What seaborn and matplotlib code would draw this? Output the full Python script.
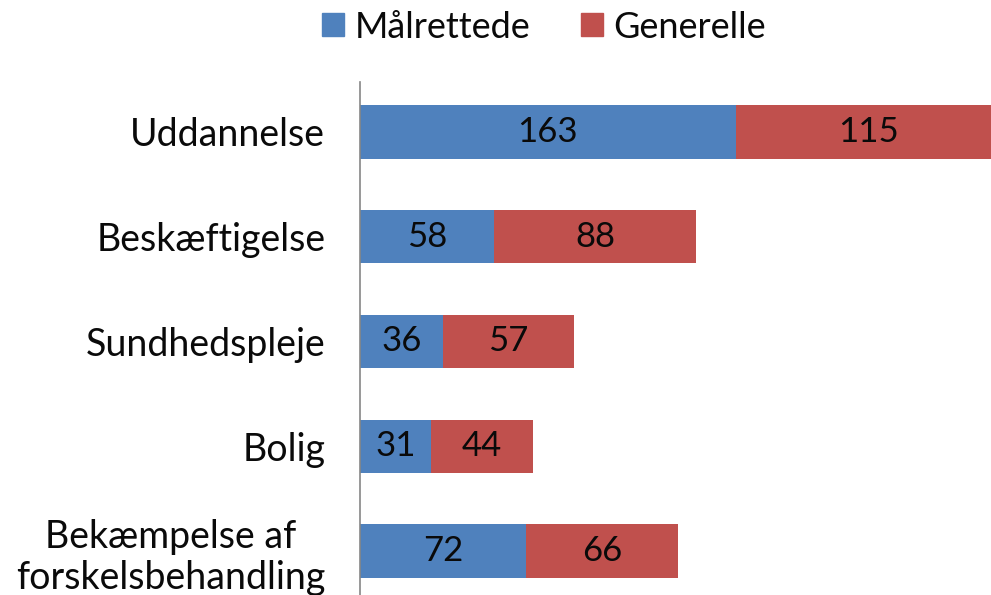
import matplotlib
matplotlib.use("Agg")
import matplotlib.pyplot as plt
import seaborn as sns
import pandas as pd
from matplotlib.patches import Patch

categories = ["Uddannelse", "Beskæftigelse", "Sundhedspleje", "Bolig",
              "Bekæmpelse af\nforskelsbehandling"]
maalrettede = [163, 58, 36, 31, 72]
generelle = [115, 88, 57, 44, 66]
series_names = ["Målrettede", "Generelle"]

BLUE = "#4F81BD"
RED = "#C0504D"

sns.set_theme(style="white")
plt.rcParams["font.family"] = ["Lato", "DejaVu Sans"]

df = pd.DataFrame({"cat": categories, "m": maalrettede, "g": generelle})
df["total"] = df["m"] + df["g"]

fig = plt.figure(figsize=(9.91, 5.95), dpi=100)
ax = fig.add_axes([360 / 991, 0, 1 - 360 / 991, (595 - 82) / 595])

sns.barplot(data=df, x="total", y="cat", orient="h", color=RED, saturation=1,
            width=0.51, linewidth=0, ax=ax)
sns.barplot(data=df, x="m", y="cat", orient="h", color=BLUE, saturation=1,
            width=0.51, linewidth=0, ax=ax)

for i, (m, g) in enumerate(zip(maalrettede, generelle)):
    ax.text(m / 2, i, str(m), ha="center", va="center", fontsize=25, color="#0a0a0a")
    ax.text(m + g / 2, i, str(g), ha="center", va="center", fontsize=25, color="#0a0a0a")

ax.set_xlim(0, 273.8)
ax.set_ylim(4.42, -0.477)
ax.set_xlabel("")
ax.set_ylabel("")
ax.set_xticks([])
ax.tick_params(axis="y", length=0, pad=25, labelsize=27, labelcolor="#0a0a0a")
for lbl in ax.get_yticklabels():
    lbl.set_multialignment("center")
    lbl.set_linespacing(1.2)
for s in ["top", "right", "bottom"]:
    ax.spines[s].set_visible(False)
ax.spines["left"].set_color("#868686")
ax.spines["left"].set_linewidth(1.2)

handles = [Patch(color=BLUE), Patch(color=RED)]
fig.legend(handles, series_names, loc="center", bbox_to_anchor=(544 / 991, 1 - 27 / 595),
           ncol=2, frameon=False, fontsize=26, handlelength=0.6, handleheight=0.6,
           handletextpad=0.3, columnspacing=1.4, labelcolor="#0a0a0a")

fig.savefig("out.png", dpi=100)
